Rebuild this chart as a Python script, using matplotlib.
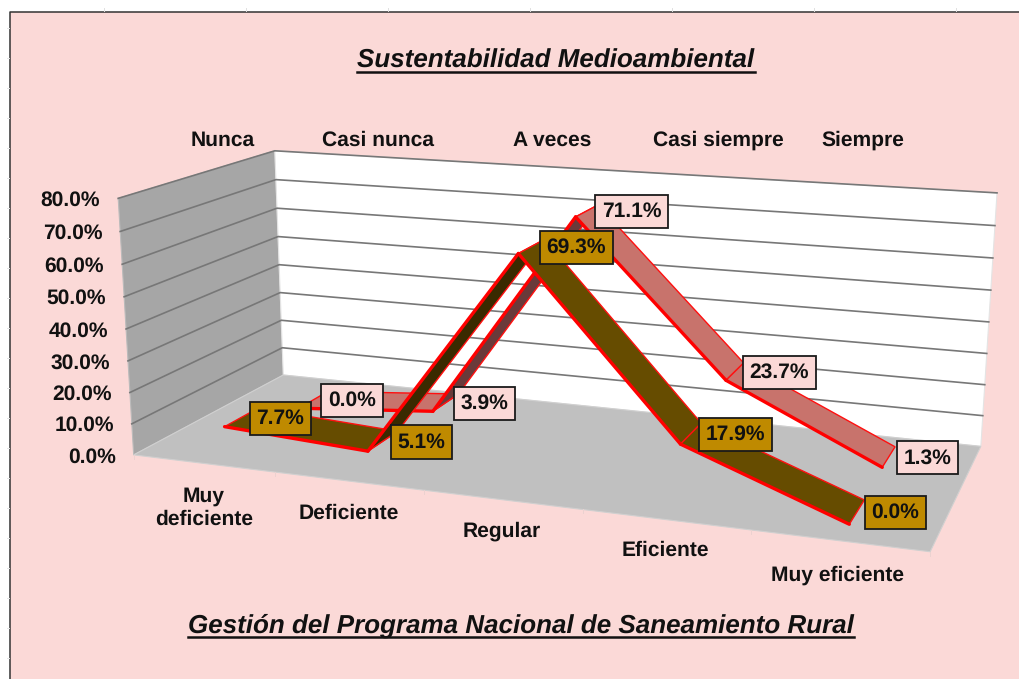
import numpy as np
import matplotlib
matplotlib.use("Agg")
import matplotlib.pyplot as plt
from matplotlib.patches import Polygon, Rectangle

plt.rcParams['font.family'] = ['Liberation Sans', 'DejaVu Sans']
plt.rcParams['text.hinting'] = 'no_hinting'
plt.rcParams['text.hinting_factor'] = 1

title = "Sustentabilidad Medioambiental"
x_title = "Gestión del Programa Nacional de Saneamiento Rural"
categories = ["Muy\ndeficiente", "Deficiente", "Regular", "Eficiente", "Muy eficiente"]
top_labels = ["Nunca", "Casi nunca", "A veces", "Casi siempre", "Siempre"]
front_values = [7.7, 5.1, 69.3, 17.9, 0.0]
back_values = [0.0, 3.9, 71.1, 23.7, 1.3]
y_ticks = [0, 10, 20, 30, 40, 50, 60, 70, 80]

# layout, in pixels of the 1019x679 picture
cat_xy = [(204, 508), (349, 513), (502, 531), (665, 550), (838, 575)]
top_x = [223, 378, 552, 718, 863]

# corners of the 3d box: (x, depth, height) -> pixel, used to fit the projection
box_3d = [(0, 0, 0), (0, 0, 1), (0, 1, 1), (0, 1, 0), (1, 1, 1), (1, 1, 0), (1, 0, 0)]
box_px = [(134, 455), (118, 198), (275, 151), (283, 375), (997, 193), (981, 446), (930, 552)]

A, b = [], []
for (X, Y, Z), (u, v) in zip(box_3d, box_px):
    A.append([X, Y, Z, 1, 0, 0, 0, 0, -u*X, -u*Y, -u*Z])
    A.append([0, 0, 0, 0, X, Y, Z, 1, -v*X, -v*Y, -v*Z])
    b += [u, v]
p = np.linalg.lstsq(np.array(A, float), np.array(b, float), rcond=None)[0]
P = np.append(p, 1).reshape(3, 4)

def proj(x, y, z):
    r = P @ np.array([x, y, z, 1.0])
    return r[0]/r[2], r[1]/r[2]

def val(v):
    return v/80.0

def cat_x(i):
    return (i+0.5)/len(categories)

fig = plt.figure(figsize=(10.19, 6.79), dpi=100, facecolor="white")
ax = fig.add_axes([0, 0, 1, 1])
ax.set_xlim(0, 1019)
ax.set_ylim(679, 0)
ax.axis("off")

# chart area with the dark border on top and left, sheet ticks outside it
ax.add_patch(Rectangle((10, 12), 1012, 670, fc="#FBD9D7", ec="none", zorder=0))
ax.plot([10, 10, 1019], [679, 12, 12], color="#333333", lw=1.1, zorder=1)
for tx in range(104, 1019, 142):
    ax.plot([tx, tx], [8, 11], color="#E0E0E0", lw=0.7, zorder=1)
for ty in range(28, 679, 30):
    ax.plot([7, 9], [ty, ty], color="#E4E4E4", lw=0.7, zorder=1)

# walls and floor
left_wall = [proj(0, 0, 0), proj(0, 0, 1), proj(0, 1, 1), proj(0, 1, 0)]
back_wall = [proj(0, 1, 0), proj(0, 1, 1), proj(1, 1, 1), proj(1, 1, 0)]
floor = [proj(0, 0, 0), proj(0, 1, 0), proj(1, 1, 0), proj(1, 0, 0)]
ax.add_patch(Polygon(left_wall, fc="#A6A6A6", ec="#BBBBBB", lw=0.8, zorder=2))
ax.add_patch(Polygon(back_wall, fc="white", ec="#E4E4E4", lw=0.8, zorder=2))
ax.add_patch(Polygon(floor, fc="#C0C0C0", ec="#D0D0D0", lw=0.8, zorder=2))

for t in y_ticks:
    pts = [proj(0, 0, val(t)), proj(0, 1, val(t)), proj(1, 1, val(t))]
    if t > 0:
        ax.plot(*zip(*pts), color="#777777", lw=1.2, zorder=3)
    u, v = pts[0]
    ax.text(u-18, v+2, "%.1f%%" % t, ha="right", va="center", fontsize=15.2, fontweight="bold", color="#111111", zorder=9)

# tick marks along the front of the floor
for i in range(len(categories)+1):
    u, v = proj(i/len(categories), 0, 0)
    ax.plot([u, u], [v, v+4], color="#EBD2D0", lw=0.7, zorder=2)

def ribbon(values, y0, y1, top_color, under_color, label_color):
    for i in range(len(values)-1):
        z0, z1 = val(values[i]), val(values[i+1])
        x0, x1 = cat_x(i), cat_x(i+1)
        quad = [proj(x0, y0, z0), proj(x1, y0, z1), proj(x1, y1, z1), proj(x0, y1, z0)]
        # a rising piece shows its darker underside
        color = under_color if values[i+1]-values[i] > 10 else top_color
        ax.add_patch(Polygon(quad, fc=color, ec="#FF1010", lw=1.0, joinstyle="miter", zorder=4))
        ax.plot(*zip(quad[0], quad[1]), color="#FF0000", lw=2.4, solid_capstyle="round", zorder=4)
    for i, v in enumerate(values):
        u, w = proj(cat_x(i), (y0+y1)/2, val(v))
        ax.annotate("%.1f%%" % v, (u, w), xytext=(10.5, -0.7), textcoords="offset points",
                    ha="left", va="center", fontsize=15.2, fontweight="bold", color="#111111", zorder=8,
                    bbox=dict(boxstyle="square,pad=0.32", fc=label_color, ec="#1A1A1A", lw=1.3))

ribbon(back_values, 0.64, 0.86, "#C8736C", "#6A3A3A", "#FBD9D7")
ribbon(front_values, 0.14, 0.36, "#664C00", "#3A2A00", "#BF8A00")

for name, (u, v) in zip(categories, cat_xy):
    ax.text(u, v, name, ha="center", va="center", fontsize=15.2, fontweight="bold", color="#111111", linespacing=1.25, zorder=9)
for name, u in zip(top_labels, top_x):
    ax.text(u, 140, name, ha="center", va="center", fontsize=15.2, fontweight="bold", color="#111111", zorder=9)

# matplotlib has no underlined text, so the rule is drawn under each heading
renderer = fig.canvas.get_renderer()
for s, u, v, rule in [(title, 556, 61, 72), (x_title, 521, 626, 637)]:
    t = ax.text(u, v, s, ha="center", va="center", fontsize=18.7, fontweight="bold", fontstyle="italic", color="#111111", zorder=9)
    ext = t.get_window_extent(renderer)
    ax.plot([ext.x0, ext.x1], [rule, rule], color="#111111", lw=1.8, zorder=9)

fig.savefig("out.png", dpi=100)
